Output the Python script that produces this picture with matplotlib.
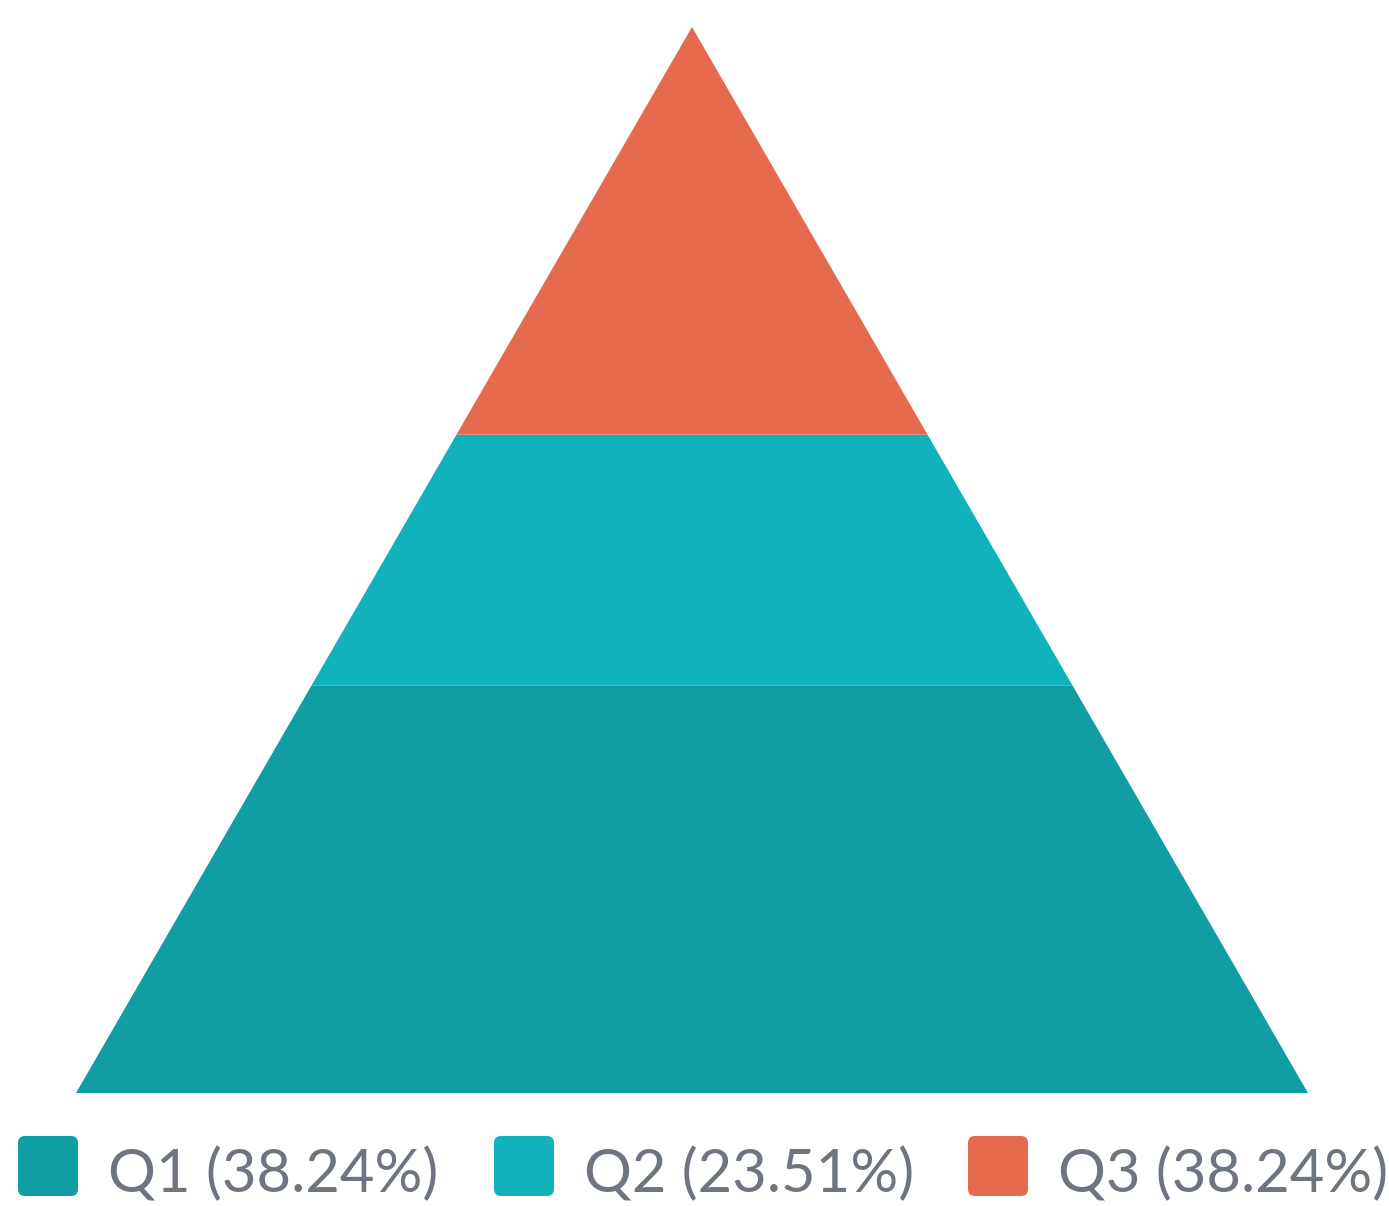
import matplotlib
matplotlib.use("Agg")
import matplotlib.pyplot as plt
from matplotlib.patches import Polygon, FancyBboxPatch

categories = ["Q1", "Q2", "Q3"]
values = [38.24, 23.51, 38.24]
colors = ["#109DA4", "#11B2BC", "#E66B4E"]

W, H = 1389, 1206
fig = plt.figure(figsize=(W / 100, H / 100), dpi=100)
ax = fig.add_axes([76 / W, (H - 1093) / H, (1308 - 76) / W, (1093 - 27) / H])
total = sum(values)
ax.set_xlim(-0.5, 0.5)
ax.set_ylim(0, total)
ax.axis("off")

def hw(y):
    return 0.5 * (1 - y / total)

y0 = 0.0
for cat, v, c in zip(categories, values, colors):
    y1 = y0 + v
    pts = [(-hw(y0), y0), (hw(y0), y0), (hw(y1), y1), (-hw(y1), y1)]
    ax.add_patch(Polygon(pts, closed=True, facecolor=c, edgecolor="none"))
    y0 = y1

# legend
sq_x = [18, 494, 968]
for i, (cat, v, c) in enumerate(zip(categories, values, colors)):
    x = sq_x[i]
    p = FancyBboxPatch((x / W, (H - 1196) / H), 60 / W, 60 / H,
                       boxstyle="round,pad=0,rounding_size=0.005",
                       transform=fig.transFigure, facecolor=c, edgecolor="none",
                       mutation_aspect=W / H)
    fig.add_artist(p)
    fig.text((x + 90) / W, (H - 1192) / H, f"{cat} ({v:.2f}%)",
             fontsize=43, family="Lato", color="#6E7580", va="baseline", ha="left")

fig.savefig("out.png", dpi=100)
